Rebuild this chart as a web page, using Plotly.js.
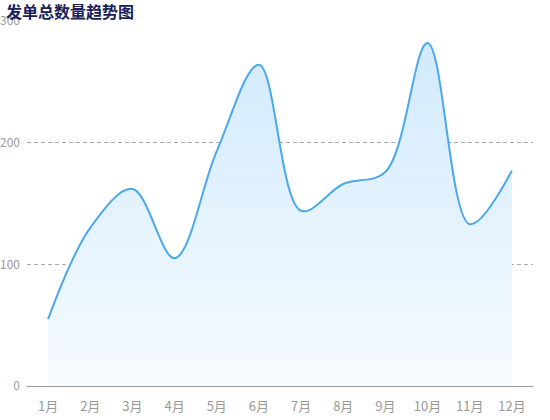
<!DOCTYPE html>
<html>
<head>
<meta charset="utf-8">
<script src="https://cdn.plot.ly/plotly-3.0.1.min.js"></script>
<style>html,body{margin:0;padding:0;background:#fff;}#chart{width:550px;height:420px;}</style>
</head>
<body>
<div id="chart"></div>
<script>
const months = ['1月','2月','3月','4月','5月','6月','7月','8月','9月','10月','11月','12月'];
const counts = [55, 130, 162, 105, 193, 264, 144, 166, 176, 282, 133, 177];
const yTicks = [0, 100, 200, 300];
const titleText = '发单总数量趋势图';

const font = '"Noto Sans CJK SC", "Noto Sans", sans-serif';

const trace = {
  type: 'scatter',
  mode: 'lines',
  x: months,
  y: counts,
  line: {color: '#4aa8ec', width: 2, shape: 'spline', smoothing: 1},
  fill: 'tozeroy',
  fillgradient: {
    type: 'vertical',
    start: 0,
    stop: 300,
    colorscale: [[0, 'rgba(246,251,255,1)'], [1, 'rgba(207,233,252,1)']]
  },
  hoverinfo: 'x+y'
};

const layout = {
  width: 550,
  height: 420,
  margin: {l: 27, r: 17, t: 21, b: 34},
  paper_bgcolor: '#fff',
  plot_bgcolor: '#fff',
  showlegend: false,
  font: {family: font, size: 12, color: '#999'},
  title: {
    text: '<b>' + titleText + '</b>',
    font: {family: font, size: 16, color: '#18215a'},
    x: 6 / 550, xref: 'container', xanchor: 'left',
    y: 1 - 12 / 420, yref: 'container', yanchor: 'middle'
  },
  xaxis: {
    type: 'category',
    range: [-0.5, 11.5],
    showgrid: false,
    zeroline: false,
    showline: true,
    linecolor: '#999',
    linewidth: 1,
    ticks: '',
    ticklabelstandoff: 8,
    tickfont: {family: font, size: 13, color: '#999'},
    fixedrange: true
  },
  yaxis: {
    range: [0, 300],
    tickvals: yTicks,
    ticktext: yTicks.map(String),
    showgrid: true,
    gridcolor: '#a8a8a8',
    griddash: '4px,3px',
    gridwidth: 1,
    zeroline: false,
    showline: false,
    ticks: '',
    ticklabelstandoff: 6,
    tickfont: {family: font, size: 12, color: '#999'},
    fixedrange: true
  }
};

Plotly.newPlot('chart', [trace], layout, {displayModeBar: false, staticPlot: true});
</script>
</body>
</html>
